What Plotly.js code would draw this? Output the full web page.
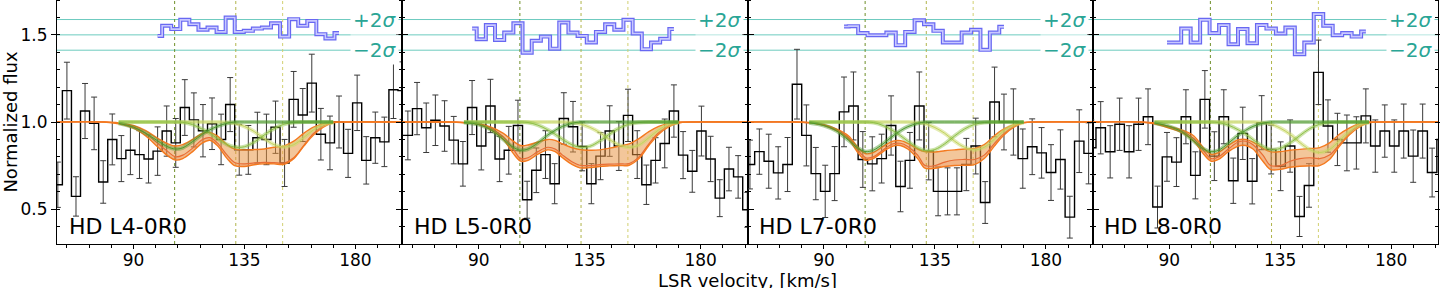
<!DOCTYPE html>
<html><head><meta charset="utf-8">
<script src="https://cdn.plot.ly/plotly-3.0.1.min.js"></script>
<style>html,body{margin:0;padding:0;background:#fff}#chart{width:1440px;height:288px}</style>
</head><body><div id="chart"></div>
<script>
// ---------------- DATA ----------------
const panelLabels = ["HD L4-0R0", "HD L5-0R0", "HD L7-0R0", "HD L8-0R0"];
const xTicks = [90, 135, 180];
const compCenters = [106.7, 131.5, 150.5];
const resZero = 1.5, resTwoSigma = 0.088;
const binWidths = [3.678, 3.72, 3.815, 3.84];

// Panel 1 (HD L4-0R0)
const vel1 = [59.34, 63.02, 66.70, 70.37, 74.05, 77.73, 81.41, 85.09, 88.76, 92.44, 96.12, 99.80, 103.48, 107.15, 110.83, 114.51, 118.19, 121.87, 125.54, 129.22, 132.90, 136.58, 140.26, 143.93, 147.61, 151.29, 154.97, 158.65, 162.32, 166.00, 169.68, 173.36, 177.04, 180.71, 184.39, 188.07, 191.75, 195.43, 199.10];
const flux1 = [0.64, 1.18, 0.573, 1.063, 0.992, 0.656, 0.90, 0.79, 0.838, 0.813, 0.788, 0.833, 0.948, 0.88, 1.083, 1.012, 0.95, 0.99, 0.90, 1.10, 0.84, 0.84, 0.91, 0.90, 0.97, 0.765, 1.13, 1.04, 1.223, 0.93, 0.88, 1.0, 0.82, 1.11, 0.78, 0.91, 0.886, 1.185, 1.18];
const err1 = [0.13, 0.163, 0.113, 0.158, 0.151, 0.122, 0.146, 0.132, 0.14, 0.137, 0.138, 0.139, 0.144, 0.14, 0.16, 0.155, 0.15, 0.148, 0.145, 0.155, 0.145, 0.14, 0.146, 0.145, 0.15, 0.135, 0.16, 0.152, 0.166, 0.148, 0.154, 0.149, 0.138, 0.159, 0.136, 0.147, 0.142, 0.165, 0.165];
const resFirst1 = 11;
const res1 = [1.494, 1.552, 1.533, 1.586, 1.561, 1.529, 1.542, 1.517, 1.600, 1.517, 1.523, 1.536, 1.542, 1.567, 1.490, 1.590, 1.552, 1.580, 1.504, 1.479, 1.510];

// Panel 2 (HD L5-0R0)
const vel2 = [57.56, 61.28, 65.00, 68.72, 72.44, 76.16, 79.88, 83.60, 87.32, 91.04, 94.76, 98.48, 102.20, 105.92, 109.64, 113.36, 117.08, 120.80, 124.52, 128.24, 131.96, 135.68, 139.40, 143.12, 146.84, 150.56, 154.28, 158.00, 161.72, 165.44, 169.16, 172.88, 176.60, 180.32, 184.04, 187.76, 191.48, 195.20, 198.92];
const flux2 = [0.923, 0.923, 1.077, 0.967, 1.01, 0.977, 0.896, 0.76, 1.083, 0.862, 1.092, 0.788, 0.838, 0.98, 0.554, 0.723, 0.813, 0.646, 1.02, 0.973, 0.86, 0.646, 0.804, 0.948, 0.862, 1.038, 0.813, 0.64, 0.78, 0.877, 1.063, 0.81, 0.717, 0.948, 0.788, 0.563, 0.73, 0.685, 0.496];
const err2 = [0.14, 0.14, 0.15, 0.142, 0.145, 0.145, 0.136, 0.128, 0.155, 0.137, 0.153, 0.13, 0.137, 0.145, 0.106, 0.128, 0.137, 0.115, 0.148, 0.145, 0.14, 0.115, 0.135, 0.145, 0.14, 0.15, 0.137, 0.113, 0.13, 0.14, 0.15, 0.135, 0.12, 0.143, 0.13, 0.106, 0.125, 0.122, 0.1];
const resFirst2 = 8;
const res2 = [1.536, 1.475, 1.556, 1.471, 1.513, 1.567, 1.398, 1.466, 1.490, 1.421, 1.571, 1.513, 1.494, 1.456, 1.517, 1.561, 1.529, 1.586, 1.508, 1.418, 1.456, 1.477, 1.533];

// Panel 3 (HD L7-0R0)
const vel3 = [59.99, 63.81, 67.62, 71.44, 75.25, 79.07, 82.88, 86.70, 90.51, 94.33, 98.14, 101.96, 105.77, 109.59, 113.40, 117.22, 121.03, 124.85, 128.66, 132.48, 136.29, 140.11, 143.92, 147.74, 151.55, 155.37, 159.18, 163.00, 166.81, 170.63, 174.44, 178.26, 182.07, 185.89, 189.70, 193.52, 197.33, 201.15];
const flux3 = [0.756, 0.83, 0.775, 0.708, 0.756, 1.217, 0.923, 0.704, 0.602, 0.704, 1.058, 1.092, 0.785, 0.76, 0.79, 0.98, 0.63, 0.78, 1.092, 0.833, 0.602, 0.602, 0.602, 0.756, 0.862, 0.538, 1.115, 1.0, 1.0, 0.79, 0.858, 0.823, 0.71, 0.785, 0.454, 0.89, 0.82, 0.84];
const err3 = [0.14, 0.13, 0.155, 0.15, 0.155, 0.2, 0.175, 0.15, 0.15, 0.155, 0.2, 0.195, 0.16, 0.155, 0.14, 0.17, 0.145, 0.16, 0.195, 0.165, 0.14, 0.135, 0.135, 0.15, 0.16, 0.12, 0.2, 0.16, 0.19, 0.17, 0.16, 0.145, 0.16, 0.17, 0.12, 0.18, 0.175, 0.17];
const resFirst3 = 10;
const res3 = [1.548, 1.550, 1.510, 1.498, 1.498, 1.513, 1.441, 1.517, 1.584, 1.561, 1.523, 1.456, 1.456, 1.513, 1.529, 1.414, 1.513, 1.546];

// Panel 4 (HD L8-0R0)
const vel4 = [58.38, 62.22, 66.06, 69.90, 73.74, 77.58, 81.42, 85.26, 89.10, 92.94, 96.78, 100.62, 104.46, 108.30, 112.14, 115.98, 119.82, 123.66, 127.50, 131.34, 135.18, 139.02, 142.86, 146.70, 150.54, 154.38, 158.22, 162.06, 165.90, 169.74, 173.58, 177.42, 181.26, 185.10, 188.94, 192.78, 196.62, 200.46];
const flux4 = [0.852, 0.967, 0.829, 0.987, 0.829, 0.987, 1.03, 0.512, 0.80, 0.77, 1.03, 0.694, 1.13, 0.804, 1.03, 0.663, 0.935, 0.66, 0.996, 0.842, 0.746, 0.862, 0.458, 0.636, 1.285, 0.977, 0.90, 0.88, 0.88, 1.035, 0.862, 0.948, 0.862, 0.948, 0.804, 0.948, 0.71, 0.90];
const err4 = [0.16, 0.15, 0.15, 0.15, 0.15, 0.15, 0.16, 0.12, 0.14, 0.14, 0.155, 0.135, 0.165, 0.14, 0.155, 0.13, 0.15, 0.13, 0.155, 0.14, 0.14, 0.15, 0.115, 0.125, 0.185, 0.15, 0.15, 0.16, 0.15, 0.155, 0.15, 0.15, 0.15, 0.155, 0.15, 0.155, 0.14, 0.15];
const resFirst4 = 8;
const res4 = [1.456, 1.456, 1.536, 1.456, 1.586, 1.510, 1.556, 1.446, 1.533, 1.452, 1.556, 1.536, 1.508, 1.542, 1.389, 1.456, 1.619, 1.552, 1.498, 1.510, 1.490, 1.519];

const modelVel = [59, 78, 84, 90, 95, 100, 104, 107, 110, 114, 118, 121, 124, 128, 131, 135, 139, 143, 147, 151, 155, 159, 163, 167, 171, 176, 199];
const hi1 = [1, 1, 0.995, 0.98, 0.95, 0.905, 0.875, 0.862, 0.87, 0.9, 0.935, 0.94, 0.92, 0.87, 0.845, 0.84, 0.842, 0.845, 0.855, 0.862, 0.89, 0.935, 0.97, 0.99, 1, 1, 1];
const lo1 = [1, 1, 0.99, 0.965, 0.92, 0.855, 0.805, 0.782, 0.79, 0.83, 0.88, 0.895, 0.865, 0.79, 0.75, 0.745, 0.755, 0.76, 0.76, 0.757, 0.79, 0.86, 0.925, 0.97, 0.995, 1, 1];
const red1 = [1, 1, 0.993, 0.972, 0.935, 0.875, 0.83, 0.80, 0.81, 0.85, 0.9, 0.91, 0.88, 0.81, 0.768, 0.76, 0.765, 0.768, 0.767, 0.765, 0.795, 0.865, 0.935, 0.978, 0.998, 1, 1];
const compA1 = [1, 1, 0.992, 0.97, 0.935, 0.89, 0.857, 0.845, 0.852, 0.888, 0.93, 0.955, 0.975, 0.993, 1, 1, 1, 1, 1, 1, 1, 1, 1, 1, 1, 1, 1];
const compB1 = [1, 1, 1, 1, 1, 1, 1, 1, 0.998, 0.985, 0.958, 0.935, 0.905, 0.87, 0.856, 0.858, 0.885, 0.925, 0.962, 0.987, 0.997, 1, 1, 1, 1, 1, 1];
const compC1 = [1, 1, 1, 1, 1, 1, 1, 1, 1, 1, 1, 1, 1, 0.998, 0.992, 0.975, 0.945, 0.905, 0.87, 0.857, 0.87, 0.91, 0.955, 0.985, 0.997, 1, 1];

const hi2 = [1, 1, 0.998, 0.99, 0.97, 0.935, 0.89, 0.865, 0.868, 0.885, 0.9, 0.895, 0.875, 0.852, 0.842, 0.838, 0.84, 0.85, 0.862, 0.875, 0.905, 0.945, 0.975, 0.992, 1, 1, 1];
const lo2 = [1, 1, 0.995, 0.985, 0.955, 0.9, 0.82, 0.775, 0.78, 0.815, 0.84, 0.83, 0.795, 0.755, 0.737, 0.738, 0.745, 0.748, 0.75, 0.752, 0.79, 0.865, 0.93, 0.972, 0.994, 1, 1];
const red2 = [1, 1, 0.996, 0.987, 0.962, 0.915, 0.845, 0.79, 0.795, 0.83, 0.855, 0.845, 0.81, 0.77, 0.752, 0.75, 0.755, 0.758, 0.76, 0.762, 0.8, 0.875, 0.94, 0.978, 0.996, 1, 1];
const compA2 = [1, 1, 0.997, 0.985, 0.955, 0.9, 0.855, 0.838, 0.845, 0.88, 0.925, 0.952, 0.975, 0.993, 1, 1, 1, 1, 1, 1, 1, 1, 1, 1, 1, 1, 1];
const compB2 = [1, 1, 1, 1, 1, 1, 1, 1, 0.997, 0.982, 0.955, 0.93, 0.9, 0.868, 0.855, 0.86, 0.89, 0.93, 0.965, 0.988, 0.997, 1, 1, 1, 1, 1, 1];
const compC2 = [1, 1, 1, 1, 1, 1, 1, 1, 1, 1, 1, 1, 1, 0.997, 0.99, 0.97, 0.94, 0.9, 0.868, 0.855, 0.868, 0.91, 0.955, 0.985, 0.997, 1, 1];

const hi3 = [1, 1, 0.997, 0.985, 0.96, 0.92, 0.85, 0.818, 0.825, 0.86, 0.89, 0.893, 0.878, 0.845, 0.83, 0.828, 0.835, 0.84, 0.845, 0.848, 0.87, 0.92, 0.96, 0.985, 0.998, 1, 1];
const lo3 = [1, 1, 0.995, 0.98, 0.95, 0.9, 0.82, 0.78, 0.79, 0.83, 0.862, 0.865, 0.845, 0.79, 0.735, 0.735, 0.745, 0.75, 0.752, 0.755, 0.79, 0.86, 0.925, 0.97, 0.995, 1, 1];
const red3 = [1, 1, 0.996, 0.983, 0.955, 0.91, 0.835, 0.795, 0.8, 0.84, 0.875, 0.878, 0.86, 0.81, 0.75, 0.75, 0.77, 0.782, 0.785, 0.785, 0.81, 0.875, 0.935, 0.975, 0.996, 1, 1];
const compA3 = [1, 1, 0.996, 0.98, 0.95, 0.895, 0.848, 0.83, 0.838, 0.875, 0.92, 0.95, 0.973, 0.992, 1, 1, 1, 1, 1, 1, 1, 1, 1, 1, 1, 1, 1];
const compB3 = [1, 1, 1, 1, 1, 1, 1, 1, 0.997, 0.98, 0.95, 0.922, 0.89, 0.852, 0.836, 0.842, 0.875, 0.92, 0.96, 0.986, 0.997, 1, 1, 1, 1, 1, 1];
const compC3 = [1, 1, 1, 1, 1, 1, 1, 1, 1, 1, 1, 1, 1, 0.997, 0.99, 0.968, 0.935, 0.89, 0.855, 0.84, 0.855, 0.9, 0.95, 0.983, 0.997, 1, 1];

const hi4 = [1, 1, 0.995, 0.975, 0.955, 0.92, 0.85, 0.815, 0.825, 0.865, 0.898, 0.9, 0.885, 0.85, 0.83, 0.83, 0.838, 0.843, 0.848, 0.853, 0.88, 0.93, 0.965, 0.99, 1, 1, 1];
const lo4 = [1, 1, 0.99, 0.965, 0.94, 0.89, 0.815, 0.775, 0.785, 0.83, 0.862, 0.865, 0.845, 0.775, 0.728, 0.728, 0.74, 0.746, 0.748, 0.75, 0.785, 0.86, 0.925, 0.97, 0.995, 1, 1];
const red4 = [1, 1, 0.993, 0.97, 0.948, 0.905, 0.835, 0.79, 0.8, 0.845, 0.885, 0.89, 0.87, 0.81, 0.752, 0.75, 0.775, 0.79, 0.795, 0.79, 0.81, 0.87, 0.935, 0.978, 0.997, 1, 1];
const compA4 = [1, 1, 0.994, 0.975, 0.945, 0.89, 0.845, 0.83, 0.838, 0.878, 0.925, 0.952, 0.975, 0.993, 1, 1, 1, 1, 1, 1, 1, 1, 1, 1, 1, 1, 1];
const compB4 = [1, 1, 1, 1, 1, 1, 1, 1, 0.997, 0.982, 0.955, 0.93, 0.898, 0.86, 0.842, 0.848, 0.88, 0.922, 0.962, 0.987, 0.997, 1, 1, 1, 1, 1, 1];
const compC4 = [1, 1, 1, 1, 1, 1, 1, 1, 1, 1, 1, 1, 1, 0.997, 0.99, 0.965, 0.93, 0.882, 0.842, 0.825, 0.842, 0.892, 0.945, 0.982, 0.997, 1, 1];

// components are only evaluated over the fitted window (grid points 84 .. 171)
const compFirst = 2, compLast = 24;

// ---------------- STYLE ----------------
const compBand = ['rgba(78,154,46,0.45)', 'rgba(143,192,69,0.45)', 'rgba(201,217,106,0.5)'];
const compLine = ['#4e9a2e', '#8fc045', '#c3d35e'];
const vlineCol = ['#6f8f2a', '#b0b44a', '#d2d070'];
const orange = '#f47a1f', orangeFill = 'rgba(232,145,62,0.52)';
const redCol = '#e8452e', pinkFill = 'rgba(248,130,110,0.28)';
const teal = 'rgba(60,185,170,0.75)', tealText = '#2aa595';
const FONT = 'DejaVu Sans, Liberation Sans, sans-serif';

const panels = [
  {vel: vel1, flux: flux1, err: err1, rf: resFirst1, res: res1, hi: hi1, lo: lo1, red: red1, comps: [compA1, compB1, compC1]},
  {vel: vel2, flux: flux2, err: err2, rf: resFirst2, res: res2, hi: hi2, lo: lo2, red: red2, comps: [compA2, compB2, compC2]},
  {vel: vel3, flux: flux3, err: err3, rf: resFirst3, res: res3, hi: hi3, lo: lo3, red: red3, comps: [compA3, compB3, compC3]},
  {vel: vel4, flux: flux4, err: err4, rf: resFirst4, res: res4, hi: hi4, lo: lo4, red: red4, comps: [compA4, compB4, compC4]}
];

const traces = [], shapes = [], annotations = [];
const layout = {
  width: 1440, height: 288,
  margin: {l: 57, r: 2, t: 0, b: 44},
  paper_bgcolor: '#fff', plot_bgcolor: '#fff',
  showlegend: false,
  font: {family: FONT, color: '#000', size: 17}
};

panels.forEach((P, i) => {
  const xa = i === 0 ? 'x' : 'x' + (i + 1);
  const ya = i === 0 ? 'y' : 'y' + (i + 1);
  const w = binWidths[i];
  const sx = P.vel.map(v => v - w / 2).concat([P.vel[P.vel.length - 1] + w / 2]);
  const sy = P.flux.concat([P.flux[P.flux.length - 1]]);

  traces.push({x: P.vel, y: P.flux, xaxis: xa, yaxis: ya, type: 'scatter', mode: 'markers',
    marker: {size: 0.1, color: 'rgba(0,0,0,0)'},
    error_y: {type: 'data', array: P.err, visible: true, color: '#3a3a3a', thickness: 1, width: 3},
    hoverinfo: 'skip'});
  traces.push({x: sx, y: sy, xaxis: xa, yaxis: ya, type: 'scatter', mode: 'lines',
    line: {shape: 'hv', color: '#000', width: 1.4}, hoverinfo: 'skip'});

  // red model with pink shading (under the orange band)
  traces.push({x: modelVel, y: P.lo, xaxis: xa, yaxis: ya, mode: 'lines',
    line: {shape: 'spline', color: 'rgba(0,0,0,0)', width: 0}, hoverinfo: 'skip'});
  traces.push({x: modelVel, y: P.red, xaxis: xa, yaxis: ya, mode: 'lines', fill: 'tonexty', fillcolor: pinkFill,
    line: {shape: 'spline', color: redCol, width: 1.2}, hoverinfo: 'skip'});
  // total model band
  traces.push({x: modelVel, y: P.lo, xaxis: xa, yaxis: ya, mode: 'lines',
    line: {shape: 'spline', color: orange, width: 1.4}, hoverinfo: 'skip'});
  traces.push({x: modelVel, y: P.hi, xaxis: xa, yaxis: ya, mode: 'lines', fill: 'tonexty', fillcolor: orangeFill,
    line: {shape: 'spline', color: orange, width: 1.4}, hoverinfo: 'skip'});

  // components (drawn light to dark, over the fitted window only)
  const cv = modelVel.slice(compFirst, compLast + 1);
  [2, 1, 0].forEach(k => {
    const cy = P.comps[k].slice(compFirst, compLast + 1);
    traces.push({x: cv, y: cy, xaxis: xa, yaxis: ya, mode: 'lines',
      line: {shape: 'spline', color: compBand[k], width: 4}, hoverinfo: 'skip'});
    traces.push({x: cv, y: cy, xaxis: xa, yaxis: ya, mode: 'lines',
      line: {shape: 'spline', color: compLine[k], width: 1}, hoverinfo: 'skip'});
  });

  // residuals
  const rv = P.vel.slice(P.rf, P.rf + P.res.length);
  traces.push({x: rv, y: P.res, xaxis: xa, yaxis: ya, mode: 'lines',
    line: {shape: 'hvh', color: '#6868f2', width: 4}, hoverinfo: 'skip'});
  traces.push({x: rv, y: P.res, xaxis: xa, yaxis: ya, mode: 'lines',
    line: {shape: 'hvh', color: '#c8c8ff', width: 1.6}, hoverinfo: 'skip'});

  [resZero + resTwoSigma, resZero, resZero - resTwoSigma].forEach(yv => {
    shapes.push({type: 'line', xref: xa + ' domain', yref: ya, x0: 0, x1: 1, y0: yv, y1: yv,
      line: {color: teal, width: 1}, layer: 'below'});
  });
  compCenters.forEach((c, k) => {
    shapes.push({type: 'line', xref: xa, yref: ya + ' domain', x0: c, x1: c, y0: 0, y1: 1,
      line: {color: vlineCol[k], width: 1, dash: 'dot'}, layer: 'below'});
  });

  annotations.push({xref: xa + ' domain', yref: ya, x: 0.99, y: resZero + resTwoSigma, xanchor: 'right', yanchor: 'middle',
    text: '+2<i>σ</i>', showarrow: false, bgcolor: '#fff', borderpad: 2, font: {size: 20, color: tealText, family: FONT}});
  annotations.push({xref: xa + ' domain', yref: ya, x: 0.99, y: resZero - resTwoSigma, xanchor: 'right', yanchor: 'middle',
    text: '−2<i>σ</i>', showarrow: false, bgcolor: '#fff', borderpad: 2, font: {size: 20, color: tealText, family: FONT}});
  annotations.push({xref: xa + ' domain', yref: ya + ' domain', x: 0.028, y: 0.07, xanchor: 'left', yanchor: 'middle',
    text: panelLabels[i], showarrow: false, font: {size: 22, color: '#000', family: FONT}});

  const axKey = i === 0 ? '' : String(i + 1);
  layout['xaxis' + axKey] = {
    domain: [i * 0.25, (i + 1) * 0.25], anchor: ya, range: [59, 199],
    tickmode: 'array', tickvals: xTicks, ticktext: xTicks.map(String),
    ticks: 'outside', ticklen: 4, tickwidth: 1, tickcolor: '#000', ticklabelstandoff: -3,
    minor: {dtick: 9, tick0: 0, ticks: 'outside', ticklen: 3, tickwidth: 1, tickcolor: '#000'},
    showline: true, linecolor: '#000', linewidth: 1, mirror: true,
    showgrid: false, zeroline: false, tickfont: {size: 17, family: FONT}
  };
  layout['yaxis' + axKey] = {
    domain: [0, 1], anchor: xa, range: [0.3, 1.7],
    dtick: 0.5, tick0: 0, tickformat: '.1f',
    ticks: 'outside', ticklen: 5, tickwidth: 1, tickcolor: '#000',
    minor: {dtick: 0.1, tick0: 0, ticks: 'inside', ticklen: 3, tickwidth: 1, tickcolor: '#000'},
    showline: true, linecolor: '#000', linewidth: 1, mirror: 'ticks',
    showgrid: false, zeroline: false, showticklabels: i === 0,
    tickfont: {size: 17, family: FONT}
  };
});

layout.yaxis.title = {text: 'Normalized flux', font: {size: 18, family: FONT}, standoff: 8};
annotations.push({xref: 'paper', yref: 'paper', x: 0.5, y: -0.1, xanchor: 'center', yanchor: 'top',
  text: 'LSR velocity, [km/s]', showarrow: false, font: {size: 18, color: '#000', family: FONT}});
layout.shapes = shapes;
layout.annotations = annotations;

Plotly.newPlot('chart', traces, layout, {displayModeBar: false, staticPlot: true});
</script>
</body></html>
